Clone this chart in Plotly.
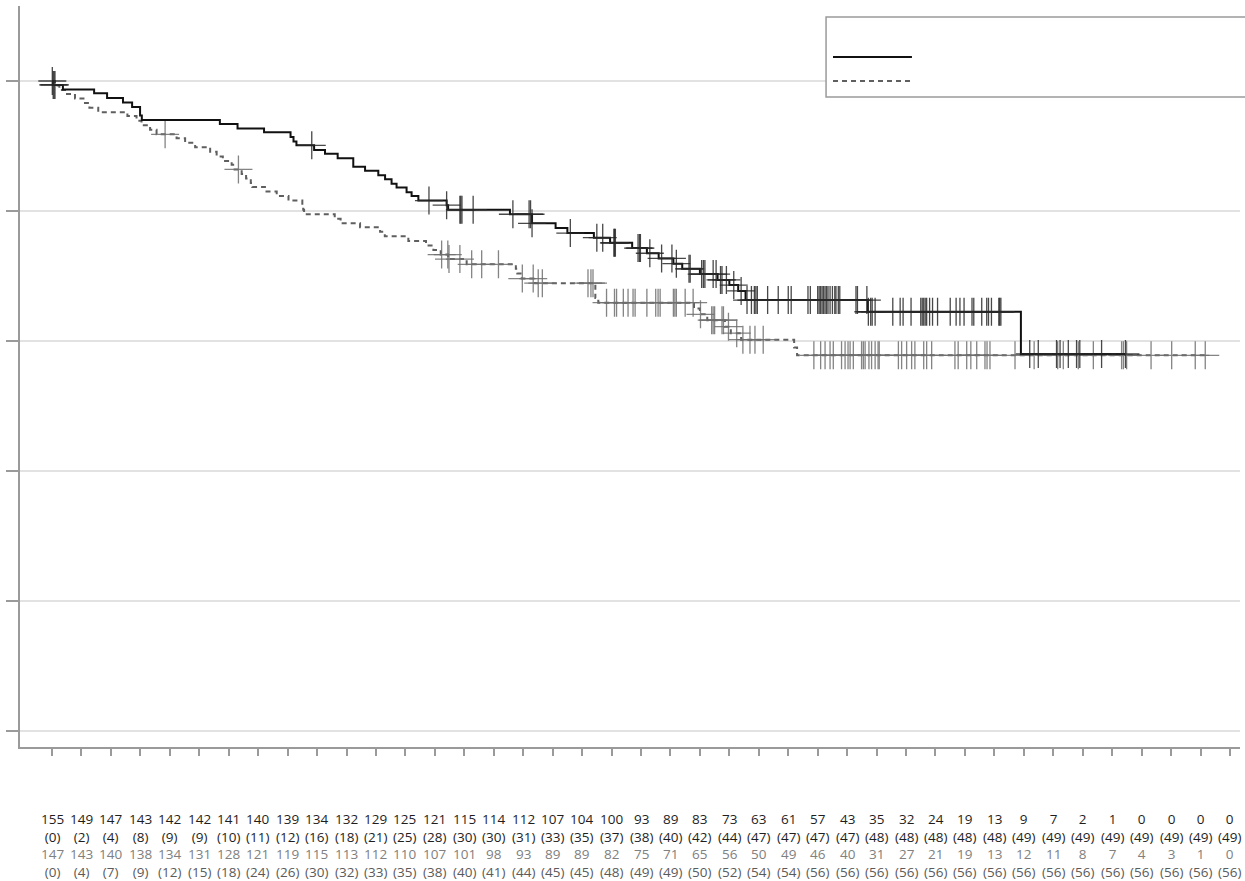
import numpy as np
import plotly.graph_objects as go

# ---------------- data ----------------
time_ticks = list(range(0, 41))

# group A (solid black) : Kaplan-Meier step times and survival levels
a_step_time = [0, 0.03, 0.37, 1.43, 1.87, 2.41, 2.72, 2.99, 3.05, 5.7, 6.3, 7.2,
               8.1, 8.2, 8.3, 8.9, 9.27, 9.7, 10.23, 10.63, 11.08, 11.31, 11.53, 11.70,
               12.04, 12.21, 12.44, 13.40, 13.45, 15.55, 16.3, 17.1, 17.5, 18.4, 18.95,
               19.7, 20.2, 20.6, 21.1, 21.4, 22.0, 22.6, 23.0, 23.3, 23.55, 27.7, 32.9]
a_step_surv = [1.0, 0.994, 0.987, 0.981, 0.974, 0.967, 0.960, 0.947, 0.940, 0.934, 0.927, 0.921,
               0.914, 0.907, 0.901, 0.894, 0.888, 0.881, 0.868, 0.862, 0.855, 0.849, 0.842, 0.836,
               0.829, 0.823, 0.816, 0.809, 0.802, 0.795, 0.781, 0.774, 0.766, 0.759, 0.751,
               0.743, 0.735, 0.727, 0.719, 0.711, 0.703, 0.694, 0.686, 0.677, 0.663, 0.645, 0.580]
a_end_time = 36.45
a_censor_time = [0.01, 0.04, 0.07, 0.1, 8.82, 12.8, 13.4, 13.85, 13.88, 13.92, 14.3, 15.65,
                 16.2, 16.25, 16.3, 17.6, 18.5, 18.7, 19.08, 19.1, 19.13, 19.9, 19.95, 19.98,
                 20.3, 20.7, 21.05, 21.2, 21.63, 21.67, 22.06, 22.12, 22.17, 22.45, 22.55, 22.7,
                 22.75, 22.9, 23.15, 23.4, 23.6, 23.75, 23.85, 23.9, 23.95, 24.3, 24.66, 25.0,
                 25.1, 25.67, 25.75, 26.0, 26.05, 26.1, 26.15, 26.2, 26.25, 26.3, 26.35, 26.42,
                 26.5, 26.58, 26.62, 26.7, 26.75, 27.3, 27.35, 27.67, 27.72, 27.8, 27.85, 27.95,
                 28.55, 28.8, 28.9, 29.17, 29.5, 29.55, 29.6, 29.65, 29.7, 29.8, 29.9, 30.07,
                 30.5, 30.7, 30.83, 30.97, 31.24, 31.3, 31.57, 31.74, 31.8, 31.9, 32.15, 32.18,
                 32.22, 33.2, 33.49, 34.11, 34.23, 34.51, 34.79, 34.9, 35.64, 36.45]

# group B (dashed grey)
b_step_time = [0, 0.1, 0.25, 0.44, 0.78, 1.12, 1.27, 1.57, 2.56, 2.87, 3.04, 3.33, 3.55,
               4.23, 4.52, 4.86, 5.37, 5.59, 5.8, 6.1, 6.2, 6.44, 6.59, 6.75, 6.8, 7.23, 7.63,
               8.03, 8.5, 8.53, 8.56, 9.6, 9.8, 10.46, 11.14, 11.3, 12.1, 12.7, 12.95, 13.2,
               13.45, 14.08, 15.75, 15.8, 15.95, 16.4, 18.45, 18.55, 21.8, 22.0, 22.25, 22.85,
               23.05, 23.4, 25.2, 25.3]
b_step_surv = [1.0, 0.993, 0.986, 0.980, 0.973, 0.966, 0.959, 0.952, 0.946, 0.939, 0.932, 0.925, 0.918,
               0.912, 0.905, 0.898, 0.891, 0.884, 0.877, 0.871, 0.864, 0.857, 0.850, 0.843, 0.837, 0.830, 0.823,
               0.816, 0.809, 0.802, 0.795, 0.788, 0.781, 0.775, 0.768, 0.761, 0.754, 0.747, 0.740, 0.733,
               0.726, 0.718, 0.711, 0.704, 0.696, 0.689, 0.666, 0.659, 0.650, 0.641, 0.632, 0.622,
               0.612, 0.602, 0.590, 0.578]
b_end_time = 39.16
b_censor_time = [3.84, 6.33, 13.23, 13.44, 13.48, 13.85, 14.25, 14.59, 15.16, 15.97, 16.34, 16.51,
                 16.65, 18.2, 18.3, 18.37, 18.83, 19.1, 19.17, 19.4, 19.56, 19.73, 19.8, 20.2,
                 20.5, 20.58, 20.65, 21.1, 21.15, 21.2, 21.5, 21.77, 22.02, 22.4, 22.45, 22.5,
                 22.75, 22.8, 22.97, 23.25, 23.46, 23.7, 23.87, 24.15, 25.87, 26.1, 26.25, 26.42,
                 26.53, 26.81, 26.93, 27.03, 27.1, 27.21, 27.49, 27.55, 27.61, 27.74, 27.83, 27.95,
                 28.05, 28.09, 28.74, 28.85, 29.02, 29.19, 29.3, 29.6, 29.7, 29.87, 30.66, 30.77,
                 31.06, 31.2, 31.4, 31.68, 31.75, 31.85, 32.7, 33.35, 34.15, 34.34, 34.85, 35.36,
                 36.32, 36.38, 36.49, 37.32, 38.02, 38.82, 39.16]

# number-at-risk table (cumulative events in brackets)
risk_a_n = [155, 149, 147, 143, 142, 142, 141, 140, 139, 134, 132, 129, 125, 121, 115, 114, 112,
            107, 104, 100, 93, 89, 83, 73, 63, 61, 57, 43, 35, 32, 24, 19, 13, 9, 7, 2, 1, 0, 0, 0, 0]
risk_a_events = [0, 2, 4, 8, 9, 9, 10, 11, 12, 16, 18, 21, 25, 28, 30, 30, 31, 33, 35, 37, 38, 40,
                 42, 44, 47, 47, 47, 47, 48, 48, 48, 48, 48, 49, 49, 49, 49, 49, 49, 49, 49]
risk_b_n = [147, 143, 140, 138, 134, 131, 128, 121, 119, 115, 113, 112, 110, 107, 101, 98, 93, 89,
            89, 82, 75, 71, 65, 56, 50, 49, 46, 40, 31, 27, 21, 19, 13, 12, 11, 8, 7, 4, 3, 1, 0]
risk_b_events = [0, 4, 7, 9, 12, 15, 18, 24, 26, 30, 32, 33, 35, 38, 40, 41, 44, 45, 45, 48, 49, 49,
                 50, 52, 54, 54, 56, 56, 56, 56, 56, 56, 56, 56, 56, 56, 56, 56, 56, 56, 56]
# ------------------------------------------------------------


def level_at(times, step_t, step_s):
    idx = np.searchsorted(np.asarray(step_t), np.asarray(times), side="right") - 1
    return np.asarray(step_s)[idx]


fig = go.Figure()

# dashed group first (drawn underneath)
fig.add_trace(go.Scatter(
    x=b_step_time + [b_end_time], y=b_step_surv + [b_step_surv[-1]],
    mode="lines", line=dict(shape="hv", color="#5f5f5f", width=2, dash="5px,4px"),
    showlegend=False, hoverinfo="skip"))
fig.add_trace(go.Scatter(
    x=b_censor_time, y=level_at(b_censor_time, b_step_time, b_step_surv),
    mode="markers",
    marker=dict(symbol="cross-thin", size=20, line=dict(width=1.3, color="rgba(110,110,110,0.85)")),
    showlegend=False, hoverinfo="skip"))

fig.add_trace(go.Scatter(
    x=a_step_time + [a_end_time], y=a_step_surv + [a_step_surv[-1]],
    mode="lines", line=dict(shape="hv", color="#111111", width=2),
    showlegend=False, hoverinfo="skip"))
fig.add_trace(go.Scatter(
    x=a_censor_time, y=level_at(a_censor_time, a_step_time, a_step_surv),
    mode="markers",
    marker=dict(symbol="cross-thin", size=20, line=dict(width=1.3, color="rgba(40,40,40,0.85)")),
    showlegend=False, hoverinfo="skip"))

# number-at-risk table: one four-line text block per time tick
row_colors = ["#1e1e1e", "#1e1e1e", "#808080", "#5a5a5a"]
annotations = []
for i, t in enumerate(time_ticks):
    cells = [str(risk_a_n[i]), "(%d)" % risk_a_events[i],
             str(risk_b_n[i]), "(%d)" % risk_b_events[i]]
    text = "<br>".join('<span style="color:%s">%s</span>' % (c, s)
                       for c, s in zip(row_colors, cells))
    annotations.append(dict(
        x=t, y=-0.1327, xref="x", yref="paper", text=text, showarrow=False,
        xanchor="center", yanchor="middle", align="center", borderpad=0,
        font=dict(family="Open Sans", size=13.5, color="#1e1e1e")))

# legend drawn as a box with two line samples (no labels in the original)
shapes = [
    dict(type="rect", xref="paper", yref="paper", x0=0.6607, x1=1.01, y0=0.8772, y1=0.9852,
         line=dict(color="#9a9a9a", width=1.5), fillcolor="white", layer="above"),
    dict(type="line", xref="paper", yref="paper", x0=0.6664, x1=0.7311, y0=0.9312, y1=0.9312,
         line=dict(color="#111111", width=2), layer="above"),
    dict(type="line", xref="paper", yref="paper", x0=0.6664, x1=0.7311, y0=0.8988, y1=0.8988,
         line=dict(color="#5f5f5f", width=2, dash="5px,4px"), layer="above"),
]

fig.update_layout(
    width=1245, height=881, autosize=False,
    margin=dict(l=20, r=5, t=6, b=134),
    paper_bgcolor="white", plot_bgcolor="white",
    font=dict(family="Open Sans", size=14, color="#222"),
    showlegend=False,
    annotations=annotations,
    shapes=shapes,
    xaxis=dict(range=[-1.087, 40.34], tickvals=time_ticks, showticklabels=False,
               ticks="outside", ticklen=7, tickwidth=1.5, tickcolor="#9a9a9a",
               showline=True, linecolor="#9a9a9a", linewidth=2,
               showgrid=False, zeroline=False),
    yaxis=dict(range=[-0.0246, 1.1154], tick0=0, dtick=0.2, showticklabels=False,
               ticks="outside", ticklen=12, tickwidth=1.5, tickcolor="#9a9a9a",
               showline=True, linecolor="#9a9a9a", linewidth=2,
               showgrid=True, gridcolor="#e2e2e2", gridwidth=2, zeroline=False),
)

fig.write_html("out.html", config={"displayModeBar": False},
               post_script="document.body.style.margin='0';")
